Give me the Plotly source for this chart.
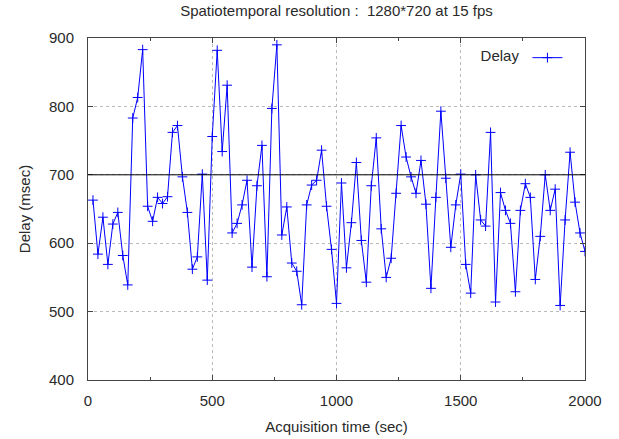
import plotly.graph_objects as go

# Acquisition times (sec)
times = [20, 40, 60, 80, 100, 120, 140, 160, 180, 200,
         220, 240, 260, 280, 300, 320, 340, 360, 380, 400,
         420, 440, 460, 480, 500, 520, 540, 560, 580, 600,
         620, 640, 660, 680, 700, 720, 740, 760, 780, 800,
         820, 840, 860, 880, 900, 920, 940, 960, 980, 1000,
         1020, 1040, 1060, 1080, 1100, 1120, 1140, 1160, 1180, 1200,
         1220, 1240, 1260, 1280, 1300, 1320, 1340, 1360, 1380, 1400,
         1420, 1440, 1460, 1480, 1500, 1520, 1540, 1560, 1580, 1600,
         1620, 1640, 1660, 1680, 1700, 1720, 1740, 1760, 1780, 1800,
         1820, 1840, 1860, 1880, 1900, 1920, 1940, 1960, 1980, 2000]

# Delay (msec)
delay = [663, 584, 638, 569, 628, 645, 582, 539, 783, 813,
         883, 654, 632, 667, 658, 668, 762, 772, 697, 645,
         562, 580, 701, 546, 756, 882, 734, 831, 615, 629,
         656, 692, 565, 684, 743, 551, 797, 890, 612, 653,
         571, 559, 510, 656, 685, 692, 736, 654, 591, 512,
         688, 564, 630, 718, 604, 543, 684, 754, 621, 550,
         578, 673, 772, 726, 697, 673, 721, 657, 534, 667,
         793, 695, 594, 656, 701, 569, 527, 700, 634, 625,
         762, 514, 674, 648, 629, 529, 648, 687, 667, 547,
         610, 700, 648, 679, 509, 634, 733, 660, 615, 588]

threshold = 700

title_text = "Spatiotemporal resolution :  1280*720 at 15 fps"
series_name = "Delay"
x_title = "Acquisition time (sec)"
y_title = "Delay (msec)"
x_ticks = [0, 500, 1000, 1500, 2000]
y_ticks = [400, 500, 600, 700, 800, 900]

FONT = "Liberation Sans"
TXT = "#2a2a2a"
FS = 15

fig = go.Figure()
fig.add_trace(go.Scatter(
    x=times, y=delay, mode="lines+markers", name="",
    showlegend=True,
    line=dict(color="#0000ff", width=1),
    marker=dict(symbol="cross-thin", size=7,
                line=dict(color="#0000ff", width=1), color="#0000ff"),
))

fig.add_hline(y=threshold, line=dict(color="black", width=1))

axis_common = dict(
    showline=True, linecolor="#444444", linewidth=1, mirror="ticks",
    ticks="inside", ticklen=5, tickcolor="#444444", automargin=False,
    showgrid=True, gridcolor="#bbbbbb", griddash="dot", gridwidth=1,
    zeroline=False, tickfont=dict(family=FONT, size=FS, color=TXT),
)

fig.update_xaxes(
    range=[0, 2000], tickvals=x_ticks, ticklabelstandoff=7,
    title=dict(text=x_title, font=dict(family=FONT, size=FS, color=TXT), standoff=13),
    minor=dict(ticks="inside", ticklen=3, dtick=250, tick0=0, tickcolor="#444444", showgrid=False),
    **axis_common,
)
fig.update_yaxes(
    range=[400, 900], tickvals=y_ticks, ticklabelstandoff=10,
    title=dict(text=y_title, font=dict(family=FONT, size=FS, color=TXT), standoff=14),
    **axis_common,
)

fig.update_layout(
    width=619, height=439,
    margin=dict(l=88, r=34, t=38, b=59),
    paper_bgcolor="white", plot_bgcolor="white",
    font=dict(family=FONT, size=FS, color=TXT),
    title=dict(text=title_text, xref="paper", x=0.5, xanchor="center",
               yref="container", y=0.976, yanchor="middle",
               font=dict(family=FONT, size=FS, color=TXT)),
    showlegend=True,
    legend=dict(x=0.975, y=0.99, xanchor="right", yanchor="top",
                orientation="h",
                title=dict(text=series_name, side="left",
                           font=dict(family=FONT, size=FS, color=TXT)),
                bgcolor="rgba(0,0,0,0)", borderwidth=0,
                font=dict(family=FONT, size=FS, color=TXT)),
)

fig.write_html("out.html", config={"displayModeBar": False},
               post_script="document.body.style.margin='0';")
